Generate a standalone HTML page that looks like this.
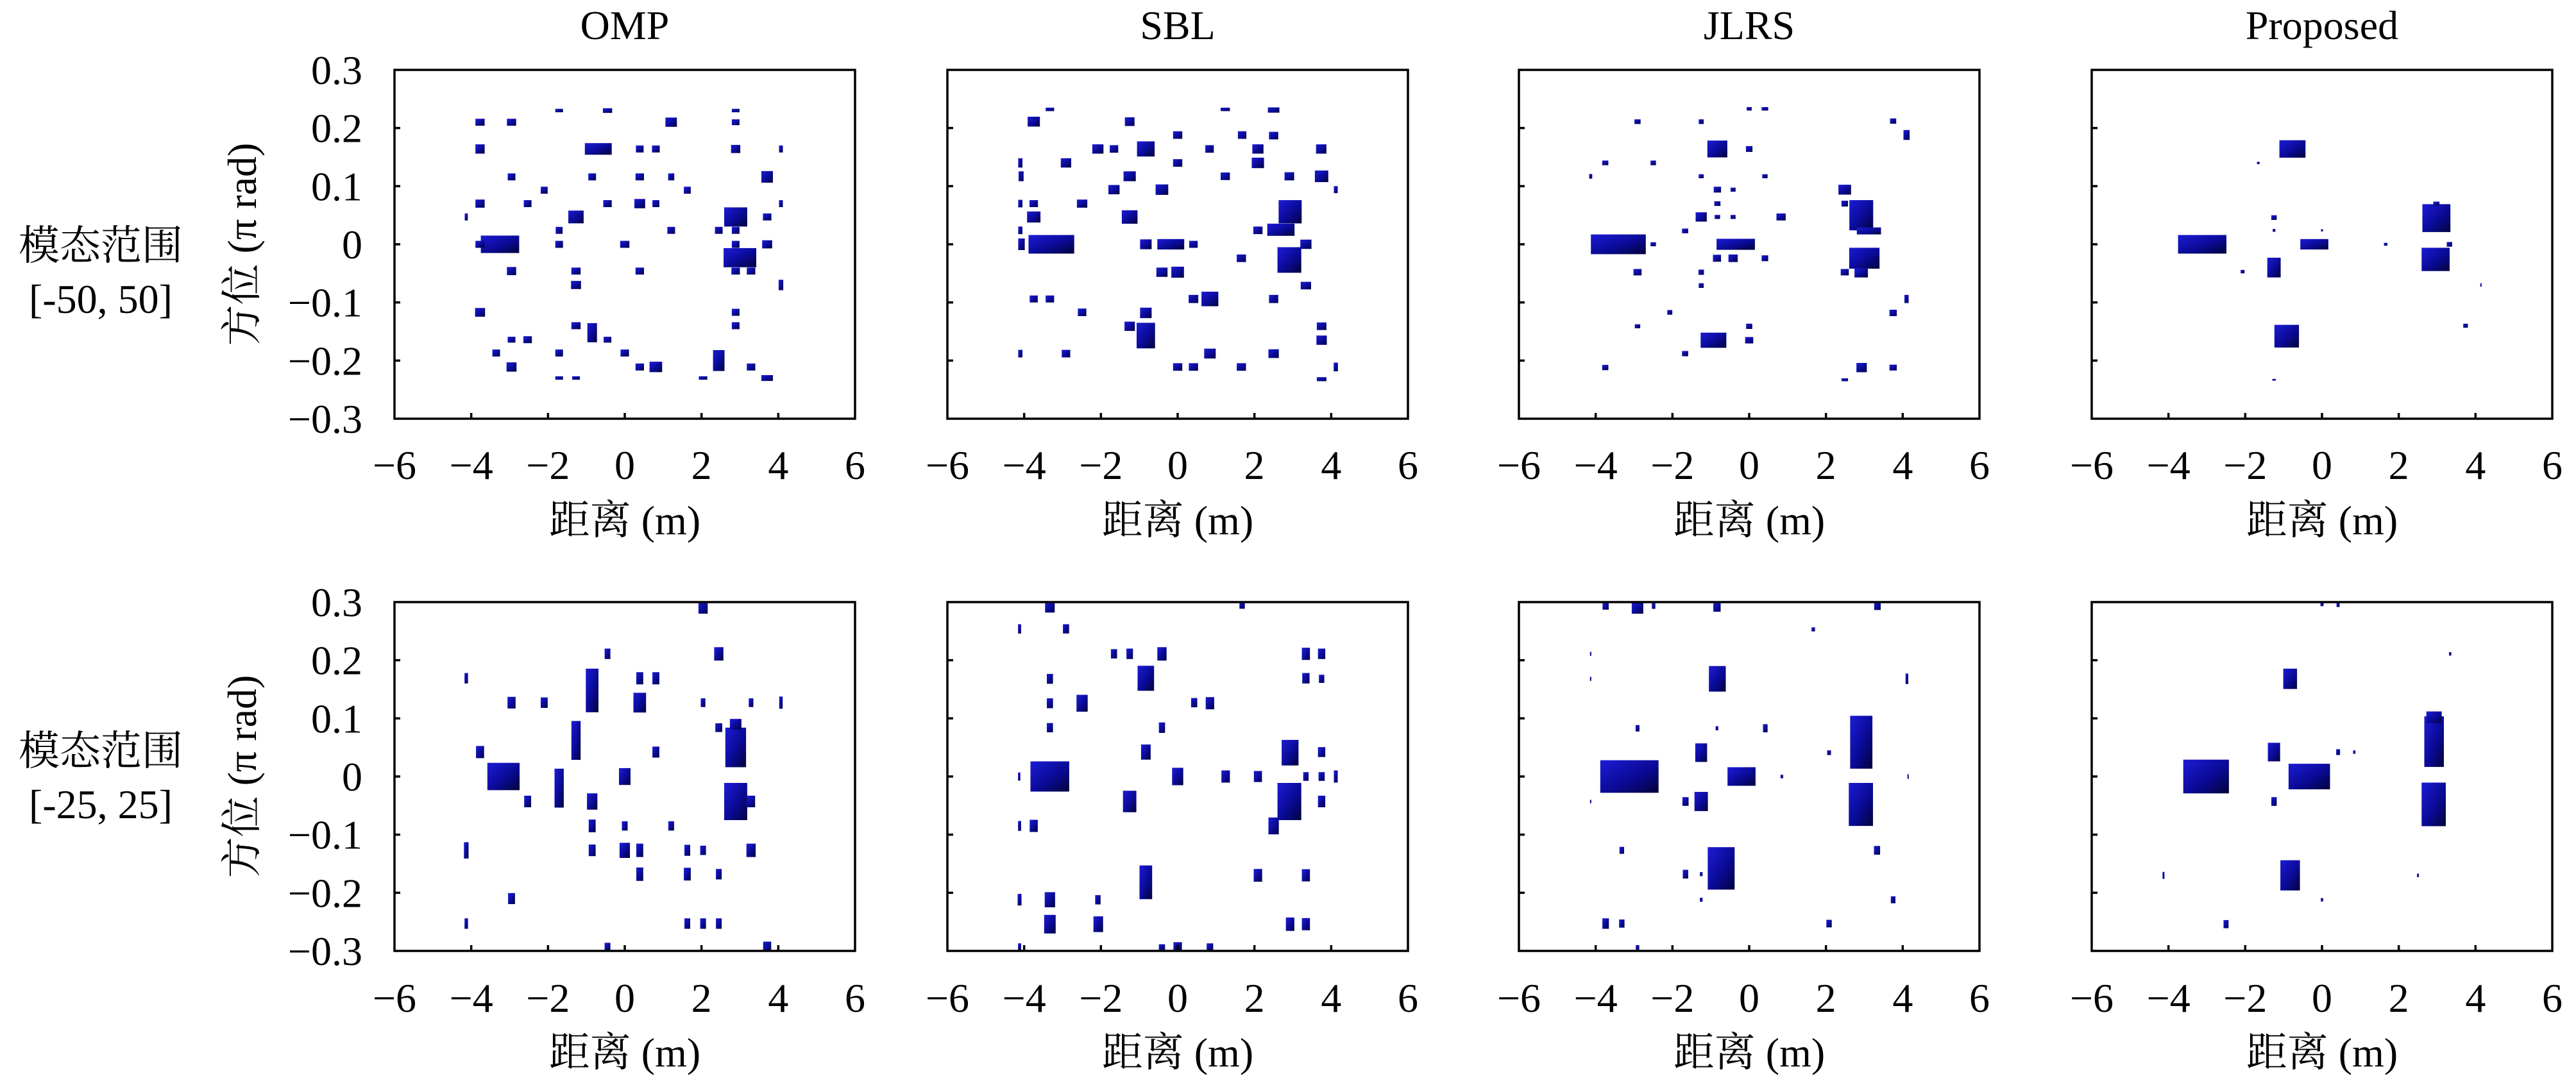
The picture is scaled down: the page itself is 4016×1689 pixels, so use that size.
<!DOCTYPE html>
<html><head><meta charset="utf-8">
<style>
html,body{margin:0;padding:0;background:#fff;}
svg{display:block;}
text{font-family:"Liberation Serif","Noto Serif CJK SC",serif;fill:#000;}
</style></head>
<body>
<svg id="fig" xmlns="http://www.w3.org/2000/svg" width="4016" height="1689" viewBox="0 0 4016 1689">
<defs>
<linearGradient id="blobGrad" x1="0" y1="0" x2="1" y2="1">
<stop offset="0" stop-color="#1c1cd6"/><stop offset="0.55" stop-color="#0a0a96"/><stop offset="1" stop-color="#03033a"/>
</linearGradient>
</defs>
<g id="layer"></g>
</svg>
<script>
// ---- data: each panel lists blobs as [range(m), azimuth(pi rad), width(m), height(pi rad)] ----
const methods = ["OMP","SBL","JLRS","Proposed"];
const rowLabels1 = ["模态范围","[-50, 50]"];
const rowLabels2 = ["模态范围","[-25, 25]"];
const xTicks = [-6,-4,-2,0,2,4,6];
const yTicks = [0.3,0.2,0.1,0,-0.1,-0.2,-0.3];
const yTickText = ["0.3","0.2","0.1","0","\u22120.1","\u22120.2","\u22120.3"];

const ompTop = [
[-3.77,0.21,.24,.012],[-2.95,0.21,.24,.012],[-1.71,0.23,.2,.006],[-0.45,0.23,.24,.008],[1.21,0.21,.3,.016],
[2.89,0.23,.2,.006],[2.89,0.21,.2,.01],[-3.77,0.164,.24,.016],[-0.69,0.164,.7,.02],[0.39,0.164,.2,.012],[0.81,0.164,.2,.012],
[2.89,0.164,.24,.014],[4.07,0.164,.1,.012],[-2.95,0.116,.2,.012],[-0.85,0.116,.2,.012],[0.39,0.116,.22,.012],[1.21,0.116,.16,.012],
[3.71,0.116,.3,.02],[-2.1,0.093,.18,.012],[1.63,0.093,.18,.012],[-3.77,0.07,.24,.014],[-2.53,0.07,.2,.012],[-0.45,0.07,.22,.012],
[0.39,0.07,.28,.016],[0.81,0.07,.18,.012],[4.07,0.07,.1,.012],[-1.27,0.047,.4,.022],[2.89,0.047,.6,.033],[3.71,0.047,.22,.012],
[-4.13,0.047,.08,.012],[-1.71,0.024,.18,.012],[1.21,0.024,.2,.012],[2.45,0.024,.2,.012],[2.89,0.024,.2,.012],
[-3.25,0,1.0,.03],[-3.77,0,.24,.012],[-1.71,0,.2,.012],[0,0,.24,.012],[2.89,0,.2,.012],[3.71,0,.26,.014],
[3.0,-0.023,.85,.033],[-2.95,-0.046,.24,.014],[-1.27,-0.046,.24,.012],[0.39,-0.046,.22,.012],[2.89,-0.046,.22,.012],[3.29,-0.046,.22,.012],
[-1.27,-0.07,.26,.014],[4.07,-0.07,.12,.018],[-3.77,-0.117,.26,.015],[2.89,-0.117,.2,.012],[2.89,-0.14,.2,.012],
[-1.27,-0.14,.24,.012],[-0.85,-0.152,.25,.033],[-2.95,-0.164,.2,.01],[-2.53,-0.164,.22,.012],[-0.45,-0.164,.2,.01],
[-3.35,-0.187,.2,.012],[-1.71,-0.187,.2,.012],[0,-0.187,.22,.012],[-2.95,-0.211,.26,.016],[0.39,-0.211,.22,.012],
[0.81,-0.211,.33,.018],[3.29,-0.211,.22,.012],[2.45,-0.2,.3,.036],[-1.71,-0.23,.2,.006],[-1.27,-0.23,.2,.006],
[2.04,-0.23,.22,.006],[3.71,-0.23,.3,.01]];

const sblTop = [
[-3.33,0.232,.22,.006],[-3.75,0.211,.32,.017],[-1.25,0.211,.25,.015],[0,0.188,.24,.013],[1.68,0.188,.22,.013],[2.5,0.187,.24,.013],
[1.24,0.232,.24,.006],[2.5,0.231,.3,.009],[-2.08,0.164,.29,.016],[-1.66,0.164,.22,.013],[-0.83,0.164,.46,.026],[0.83,0.164,.22,.013],
[2.09,0.164,.29,.016],[3.74,0.164,.27,.016],[-4.1,0.14,.11,.016],[-2.91,0.14,.27,.016],[0,0.14,.24,.013],[2.09,0.14,.32,.018],
[-4.08,0.117,.13,.017],[-1.25,0.117,.32,.017],[1.24,0.117,.24,.013],[2.91,0.117,.25,.014],[3.75,0.117,.35,.02],
[-1.66,0.094,.29,.016],[-0.41,0.094,.33,.018],[4.12,0.094,.1,.012],[-4.1,0.07,.11,.013],[-3.75,0.07,.22,.012],[-2.49,0.07,.27,.014],
[-3.75,0.047,.35,.019],[-1.25,0.047,.41,.023],[2.93,0.056,.6,.04],[2.09,0.024,.24,.013],[2.69,0.025,.71,.021],[-4.1,0.024,.11,.013],
[-3.29,0,1.19,.032],[-4.07,0,.17,.02],[-0.83,0,.3,.017],[-0.18,0,.7,.018],[0.41,0,.22,.012],[3.34,0,.29,.016],
[1.66,-0.024,.24,.013],[2.91,-0.027,.62,.044],[-0.41,-0.048,.29,.016],[0,-0.048,.33,.019],[3.34,-0.071,.27,.013],
[-3.75,-0.094,.21,.012],[-3.33,-0.094,.22,.012],[0.41,-0.094,.25,.014],[0.84,-0.094,.44,.025],[2.5,-0.094,.24,.014],
[-2.49,-0.117,.22,.013],[-0.83,-0.118,.3,.018],[-1.25,-0.141,.27,.016],[-0.83,-0.157,.48,.044],[3.75,-0.141,.25,.013],
[3.75,-0.165,.27,.016],[-4.1,-0.188,.11,.013],[-2.91,-0.188,.22,.013],[0.84,-0.188,.3,.017],[2.5,-0.188,.27,.015],
[0,-0.211,.24,.013],[0.41,-0.211,.24,.013],[1.66,-0.211,.24,.013],[4.12,-0.211,.11,.015],[3.75,-0.232,.25,.007]];

const jlrsTop = [
[0,0.233,.13,.006],[0.41,0.233,.17,.006],[-2.91,0.211,.16,.008],[-1.25,0.211,.13,.008],[3.75,0.212,.16,.009],[4.1,0.188,.16,.017],
[-0.83,0.164,.52,.029],[0,0.164,.17,.01],[-3.75,0.14,.16,.008],[-2.5,0.14,.14,.008],[-4.13,0.117,.08,.008],[-1.25,0.117,.13,.007],
[0.41,0.117,.14,.007],[-0.83,0.094,.19,.01],[-0.42,0.094,.13,.007],[2.49,0.094,.33,.017],[-0.83,0.07,.16,.008],[2.49,0.07,.17,.01],
[2.92,0.05,.62,.052],[3.12,0.023,.63,.012],[-1.25,0.047,.29,.016],[-0.83,0.047,.14,.007],[-0.42,0.047,.13,.007],[0.83,0.047,.24,.012],
[-1.67,0.023,.16,.008],[-3.41,0,1.43,.034],[-2.5,0,.14,.007],[-0.35,0,1.0,.019],[-0.84,-0.024,.21,.012],[-0.42,-0.024,.24,.013],
[0.41,-0.024,.17,.01],[3.0,-0.024,.79,.036],[-2.91,-0.048,.21,.011],[-1.25,-0.048,.14,.009],[2.49,-0.048,.21,.011],[2.92,-0.049,.35,.016],
[-1.25,-0.071,.13,.008],[4.1,-0.094,.11,.014],[3.75,-0.118,.19,.011],[-2.07,-0.117,.13,.008],[-2.91,-0.141,.14,.007],[0,-0.141,.16,.009],
[-0.93,-0.165,.67,.026],[0,-0.165,.21,.011],[-1.67,-0.188,.16,.009],[-3.75,-0.212,.16,.009],[2.93,-0.212,.27,.016],[3.75,-0.212,.19,.01],
[2.49,-0.233,.17,.005]];

const propTop = [
[-0.77,0.164,.68,.03],[-1.66,0.14,.07,.004],[-1.25,0.046,.14,.008],[-1.25,0.024,.07,.005],[2.98,0.045,.73,.048],[2.98,0.07,.16,.007],
[-3.12,0,1.26,.032],[-0.2,0,.73,.018],[1.66,0,.09,.005],[3.32,0,.14,.008],[2.96,-0.026,.73,.04],[-1.25,-0.04,.35,.034],
[-2.07,-0.047,.1,.006],[4.14,-0.07,.035,.006],[-0.92,-0.158,.64,.039],[3.74,-0.14,.12,.007],[-1.25,-0.233,.09,.003],[0,0.024,.05,.004]];

const ompBot = [
[2.04,0.29,.24,.02],[-0.45,0.211,.15,.018],[2.45,0.211,.24,.023],[-4.13,0.169,.09,.018],[0.39,0.169,.18,.021],[0.81,0.169,.18,.021],
[-0.85,0.148,.33,.075],[-2.95,0.127,.21,.02],[-2.1,0.127,.18,.018],[0.39,0.127,.33,.034],[2.04,0.127,.12,.015],[3.29,0.127,.12,.015],
[4.07,0.127,.09,.021],[2.45,0.084,.18,.015],[-1.27,0.062,.24,.067],[-3.77,0.042,.21,.021],[0.81,0.042,.18,.019],[2.89,0.05,.54,.068],
[2.89,0.09,.3,.018],[-3.16,0,.84,.047],[-1.71,-0.02,.24,.067],[0,0,.3,.029],[-2.53,-0.043,.18,.02],[-0.85,-0.043,.27,.028],
[2.89,-0.043,.6,.064],[3.29,-0.043,.21,.02],[-0.85,-0.085,.18,.022],[0,-0.085,.15,.016],[1.21,-0.085,.15,.016],[-4.13,-0.127,.12,.028],
[-0.85,-0.127,.18,.02],[0,-0.127,.27,.026],[0.39,-0.127,.18,.023],[1.63,-0.127,.15,.019],[2.04,-0.127,.15,.016],[3.29,-0.127,.24,.023],
[0.39,-0.168,.18,.023],[1.63,-0.168,.18,.022],[2.45,-0.168,.15,.018],[-2.95,-0.21,.18,.019],[-4.13,-0.253,.09,.018],[1.63,-0.253,.15,.018],
[2.04,-0.253,.15,.018],[2.45,-0.253,.15,.018],[-0.45,-0.293,.15,.014],[3.71,-0.293,.21,.018]];

const sblBot = [
[-3.33,0.291,.25,.018],[1.68,0.295,.14,.013],[-4.12,0.254,.08,.016],[-2.91,0.254,.16,.016],[-1.66,0.211,.16,.016],[-1.25,0.211,.17,.018],
[-0.41,0.211,.24,.023],[3.34,0.211,.21,.021],[3.75,0.211,.19,.018],[-0.83,0.169,.43,.043],[-3.33,0.168,.16,.017],[3.34,0.169,.19,.018],
[3.75,0.168,.14,.014],[-3.33,0.126,.16,.017],[-2.49,0.126,.29,.029],[0.43,0.127,.16,.016],[0.84,0.126,.22,.021],[-3.33,0.084,.16,.016],
[-0.41,0.084,.16,.018],[-0.83,0.042,.25,.026],[2.93,0.041,.44,.044],[3.75,0.042,.19,.017],[-3.33,0,1.01,.052],[-4.13,0,.06,.014],
[0,0,.29,.03],[1.25,0,.22,.021],[2.09,0,.21,.019],[3.34,0,.14,.015],[3.75,0,.16,.015],[4.12,0,.1,.021],[-1.25,-0.043,.35,.037],
[2.91,-0.043,.62,.064],[3.75,-0.043,.19,.02],[-4.12,-0.085,.08,.017],[-3.75,-0.085,.21,.021],[2.5,-0.085,.27,.029],[-0.83,-0.182,.33,.058],
[2.09,-0.17,.22,.022],[3.34,-0.17,.21,.021],[-4.12,-0.212,.1,.02],[-3.33,-0.212,.27,.026],[-2.08,-0.212,.14,.016],[-3.33,-0.254,.3,.032],
[-2.07,-0.254,.25,.027],[2.93,-0.254,.22,.023],[3.34,-0.254,.21,.021],[-4.12,-0.294,.08,.014],[-0.41,-0.295,.16,.013],[0,-0.293,.22,.016],
[0.84,-0.294,.17,.014]];

const jlrsBot = [
[-3.74,0.293,.16,.012],[-2.91,0.29,.3,.02],[-2.49,0.294,.09,.011],[-0.84,0.291,.19,.015],[3.34,0.293,.17,.013],[1.67,0.253,.09,.007],
[-4.13,0.211,.035,.007],[-4.13,0.168,.035,.007],[-0.83,0.168,.44,.044],[4.11,0.168,.07,.018],[-2.91,0.083,.1,.011],[-0.84,0.083,.07,.007],
[0.42,0.083,.12,.014],[2.08,0.041,.1,.008],[2.92,0.059,.58,.091],[-1.25,0.041,.31,.032],[-3.12,0,1.52,.056],[-0.2,0,.73,.032],
[0.85,0,.07,.006],[4.14,0,.035,.008],[-4.13,-0.043,.035,.006],[-1.66,-0.043,.16,.015],[-1.25,-0.043,.35,.033],[2.91,-0.048,.63,.074],
[-3.32,-0.127,.12,.012],[3.33,-0.127,.16,.015],[-0.73,-0.158,.7,.073],[-1.66,-0.168,.14,.015],[-1.25,-0.168,.07,.007],[-1.25,-0.212,.07,.007],
[3.75,-0.212,.12,.012],[-3.74,-0.253,.17,.018],[-3.32,-0.253,.14,.014],[2.08,-0.253,.14,.013],[-2.91,-0.294,.09,.008]];

const propBot = [
[0,0.296,.08,.006],[0.42,0.295,.08,.007],[3.34,0.211,.06,.006],[-0.83,0.168,.36,.035],[2.92,0.06,.51,.087],[2.92,0.102,.4,.02],
[-1.25,0.042,.32,.032],[0.42,0.042,.1,.01],[0.84,0.042,.06,.006],[-3.02,0,1.19,.058],[-0.33,0,1.08,.044],[2.91,-0.048,.63,.075],
[-1.25,-0.043,.14,.015],[-0.83,-0.17,.51,.052],[-4.13,-0.17,.05,.012],[2.5,-0.17,.05,.006],[0,-0.212,.06,.006],[-2.5,-0.254,.13,.014]];

const panelData = [[ompTop,sblTop,jlrsTop,propTop],[ompBot,sblBot,jlrsBot,propBot]];

// ---- layout ----
const plotLeft = [615,1477,2368,3261];
const plotW = 718;
const plotTop = [109,939];
const plotH = 544;
const NS = "http://www.w3.org/2000/svg";
const FONT = "Liberation Serif, Noto Serif CJK SC, serif";
const layer = document.getElementById('layer');

function mk(tag, attrs, parent){
  const e = document.createElementNS(NS, tag);
  for (const k in attrs) e.setAttribute(k, attrs[k]);
  if (tag === 'text') e.setAttribute('font-family', FONT);
  (parent||layer).appendChild(e);
  return e;
}
function xScale(c, v){ return plotLeft[c] + (v + 6) / 12 * plotW; }
function yScale(r, v){ return plotTop[r] + (0.3 - v) / 0.6 * plotH; }

methods.forEach((m, c) => {
  const t = mk('text', {x: plotLeft[c] + plotW/2, y: 61, 'text-anchor':'middle', 'font-size':64});
  t.textContent = m;
  
  
});

[rowLabels1, rowLabels2].forEach((lbl, r) => {
  const base = r === 0 ? [405, 488] : [1193, 1276];
  lbl.forEach((s, i) => {
    const t = mk('text', {x: 157, y: base[i], 'text-anchor':'middle', 'font-size':64});
    t.textContent = s;
    
    
  });
});

for (let r = 0; r < 2; r++) {
  const cy = plotTop[r] + plotH/2;
  const yl = mk('text', {x: 0, y: 0, 'text-anchor':'middle', 'font-size':64, transform:'translate(399,' + cy + ') rotate(-90)'});
  yl.textContent = '方位 (π rad)';
  
  
  yTicks.forEach((v, i) => {
    const t = mk('text', {x: 565, y: yScale(r, v) + 22, 'text-anchor':'end', 'font-size':64});
    t.textContent = yTickText[i];
    
    
  });
  for (let c = 0; c < 4; c++) {
    const g = mk('g', {});
    
    
    panelData[r][c].forEach(b => {
      const x0 = xScale(c, b[0] - b[2]/2), x1 = xScale(c, b[0] + b[2]/2);
      const y0 = yScale(r, b[1] + b[3]/2), y1 = yScale(r, b[1] - b[3]/2);
      const rc = mk('rect', {x: x0.toFixed(1), y: Math.max(y0, plotTop[r]).toFixed(1), width: Math.max(x1-x0,1.5).toFixed(1), height: Math.max(Math.min(y1, plotTop[r]+plotH) - Math.max(y0, plotTop[r]),1.5).toFixed(1), fill:'url(#blobGrad)'}, g);
      
      
    });
    const fr = mk('rect', {x: plotLeft[c], y: plotTop[r], width: plotW, height: plotH, fill:'none', stroke:'#000', 'stroke-width':3.5}, g);
    
    
    xTicks.slice(1, -1).forEach(v => {
      const X = xScale(c, v);
      const l = mk('line', {x1: X, x2: X, y1: plotTop[r]+plotH, y2: plotTop[r]+plotH-9, stroke:'#000', 'stroke-width':3.5}, g);
      
      
    });
    yTicks.slice(1, -1).forEach(v => {
      const Y = yScale(r, v);
      const l = mk('line', {x1: plotLeft[c], x2: plotLeft[c]+9, y1: Y, y2: Y, stroke:'#000', 'stroke-width':3.5}, g);
      
      
    });
    xTicks.forEach(v => {
      const t = mk('text', {x: xScale(c, v), y: r === 0 ? 747 : 1578, 'text-anchor':'middle', 'font-size':64});
      t.textContent = v < 0 ? '\u2212' + Math.abs(v) : String(v);
      
      
    });
    const xt = mk('text', {x: plotLeft[c] + plotW/2, y: r === 0 ? 833 : 1663, 'text-anchor':'middle', 'font-size':64});
    xt.textContent = '距离 (m)';
    
    
  }
}
</script>
</body></html>
